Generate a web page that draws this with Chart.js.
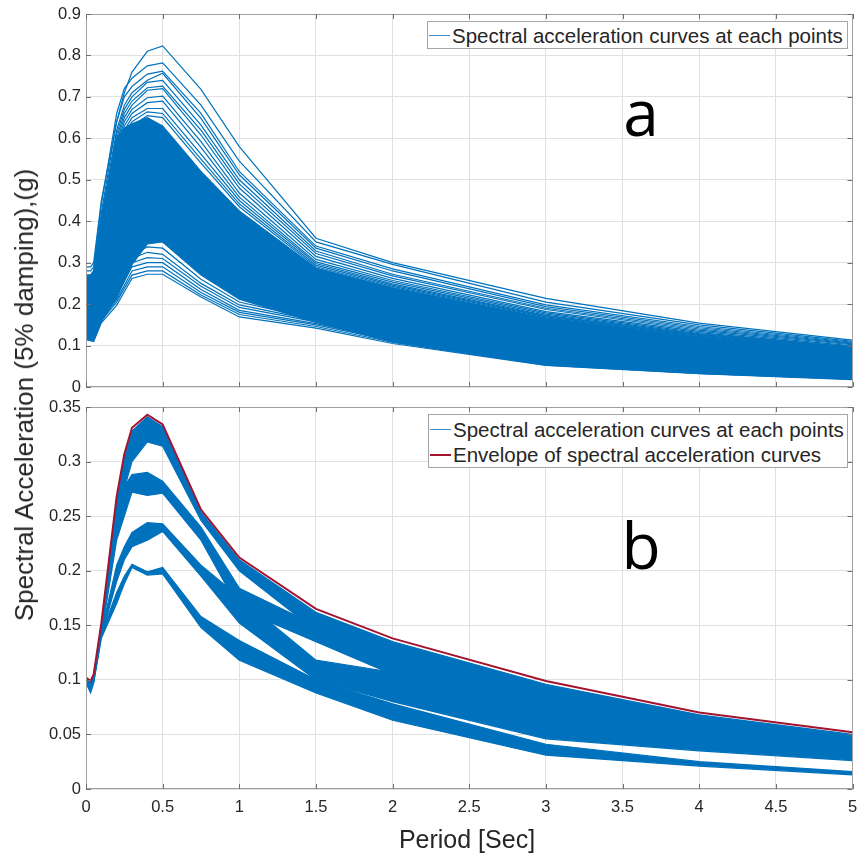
<!DOCTYPE html>
<html>
<head>
<meta charset="utf-8">
<title>Spectral acceleration curves</title>
<script src="https://cdn.jsdelivr.net/npm/chart.js"></script>
<style>
  body { margin: 0; background: #fff; }
  #wrap { position: relative; width: 858px; height: 855px; font-family: "Liberation Sans", Arial, sans-serif; color: #262626; overflow: hidden; }
  canvas { position: absolute; left: 0; }
  #chartA { top: 0; }
  #chartB { top: 400px; }
  .ylabel { position: absolute; left: 24px; top: 395px; font-size: 26px; line-height: 26px; white-space: nowrap;
            transform: translate(-50%, -50%) rotate(-90deg); }
  .xlabel { position: absolute; left: 467px; top: 827px; font-size: 25px; line-height: 25px; white-space: nowrap; transform: translateX(-50%); }
  .legend { position: absolute; box-sizing: border-box; background: #fff; border: 1px solid #a6a6a6; font-size: 20.5px; color: #262626; }
  .legend .row { height: 25.5px; display: flex; align-items: center; white-space: nowrap; }
  .legend .swatch { width: 21px; height: 0; margin-left: 1px; margin-right: 2px; border-top: 1px solid; }
  #legA { left: 427px; top: 21px; width: 421px; height: 28px; padding-top: 1px; }
  #legB { left: 428px; top: 414px; width: 420px; height: 54px; padding-top: 2px; }
  .tag { position: absolute; font-family: "Open Sans", "Noto Sans", sans-serif; font-size: 64px; line-height: 64px; color: #000; transform: translateX(-50%); }
</style>
</head>
<body>
<div id="wrap">
  <canvas id="chartA" width="858" height="400"></canvas>
  <canvas id="chartB" width="858" height="455"></canvas>
  <div class="ylabel">Spectral Acceleration (5% damping),(g)</div>
  <div class="xlabel">Period [Sec]</div>
  <div class="legend" id="legA"></div>
  <div class="legend" id="legB"></div>
  <div class="tag" style="left:641px; top:80px;">a</div>
  <div class="tag" style="left:641px; top:513px;">b</div>
</div>
<script>
// periods (sec) shared by every curve
const periods = [0, 0.03, 0.05, 0.1, 0.2, 0.25, 0.3, 0.4, 0.5, 0.75, 1, 1.5, 2, 3, 4, 5];

const xTicks = [0, 0.5, 1, 1.5, 2, 2.5, 3, 3.5, 4, 4.5, 5];
const yTicksA = [0, 0.1, 0.2, 0.3, 0.4, 0.5, 0.6, 0.7, 0.8, 0.9];
const yTicksB = [0, 0.05, 0.1, 0.15, 0.2, 0.25, 0.3, 0.35];

const legendA = ['Spectral acceleration curves at each points'];
const legendB = ['Spectral acceleration curves at each points', 'Envelope of spectral acceleration curves'];

// ---- panel a: individual curves above the dense core
const aTop1  = [0.29, 0.29, 0.30, 0.45, 0.64, 0.71, 0.76, 0.81, 0.823, 0.718, 0.58, 0.359, 0.300, 0.214, 0.154, 0.113];
const aTop2  = [0.28, 0.28, 0.29, 0.44, 0.66, 0.72, 0.745, 0.775, 0.782, 0.680, 0.545, 0.350, 0.296, 0.205, 0.150, 0.110];
const aTop3  = [0.27, 0.27, 0.28, 0.42, 0.64, 0.70, 0.725, 0.755, 0.762, 0.660, 0.520, 0.340, 0.285, 0.198, 0.146, 0.108];
const aTop4  = [0.25, 0.25, 0.27, 0.41, 0.62, 0.68, 0.71, 0.74, 0.757, 0.648, 0.512, 0.335, 0.280, 0.194, 0.143, 0.106];
const aTop5  = [0.24, 0.24, 0.26, 0.40, 0.61, 0.67, 0.70, 0.735, 0.740, 0.632, 0.500, 0.328, 0.272, 0.190, 0.140, 0.104];
const aTop6  = [0.26, 0.26, 0.27, 0.39, 0.60, 0.66, 0.69, 0.722, 0.726, 0.620, 0.490, 0.322, 0.268, 0.187, 0.137, 0.102];
const aTop7  = [0.22, 0.22, 0.25, 0.38, 0.59, 0.65, 0.68, 0.716, 0.720, 0.608, 0.480, 0.315, 0.262, 0.182, 0.134, 0.099];
const aTop8  = [0.23, 0.23, 0.24, 0.37, 0.58, 0.64, 0.67, 0.698, 0.702, 0.592, 0.468, 0.308, 0.257, 0.179, 0.131, 0.097];
const aTop9  = [0.20, 0.20, 0.22, 0.36, 0.57, 0.63, 0.66, 0.686, 0.690, 0.578, 0.458, 0.302, 0.253, 0.176, 0.129, 0.096];
const aTop10 = [0.21, 0.21, 0.23, 0.36, 0.56, 0.62, 0.65, 0.672, 0.672, 0.562, 0.450, 0.298, 0.249, 0.173, 0.127, 0.095];
const aTop11 = [0.19, 0.19, 0.21, 0.35, 0.55, 0.61, 0.64, 0.664, 0.660, 0.550, 0.442, 0.294, 0.246, 0.171, 0.125, 0.094];
const aTop12 = [0.20, 0.20, 0.22, 0.35, 0.55, 0.60, 0.63, 0.655, 0.650, 0.540, 0.435, 0.290, 0.243, 0.169, 0.124, 0.093];

// dense core of panel a (edges of the solid region)
const aCoreUpper = [0.27, 0.27, 0.28, 0.40, 0.60, 0.625, 0.635, 0.65, 0.63, 0.52, 0.425, 0.287, 0.240, 0.167, 0.122, 0.092];
const aCoreLower = [0.115, 0.112, 0.112, 0.158, 0.215, 0.255, 0.295, 0.345, 0.350, 0.270, 0.212, 0.156, 0.108, 0.053, 0.033, 0.019];

// individual curves below the core
const aBot1 = [0.115, 0.112, 0.110, 0.155, 0.197, 0.230, 0.262, 0.272, 0.272, 0.217, 0.169, 0.142, 0.105, 0.052, 0.032, 0.018];
const aBot2 = [0.120, 0.116, 0.115, 0.160, 0.205, 0.238, 0.270, 0.280, 0.280, 0.222, 0.175, 0.146, 0.108, 0.054, 0.033, 0.019];
const aBot3 = [0.125, 0.120, 0.120, 0.165, 0.210, 0.245, 0.280, 0.290, 0.290, 0.228, 0.180, 0.150, 0.112, 0.056, 0.035, 0.020];
const aBot4 = [0.130, 0.125, 0.125, 0.170, 0.220, 0.255, 0.290, 0.300, 0.300, 0.235, 0.185, 0.153, 0.115, 0.058, 0.036, 0.021];
const aBot5 = [0.140, 0.135, 0.130, 0.175, 0.230, 0.265, 0.300, 0.312, 0.310, 0.243, 0.192, 0.157, 0.118, 0.060, 0.038, 0.022];
const aBot6 = [0.150, 0.145, 0.140, 0.180, 0.240, 0.278, 0.310, 0.325, 0.320, 0.250, 0.198, 0.160, 0.120, 0.062, 0.040, 0.023];
const aBot7 = [0.160, 0.155, 0.150, 0.190, 0.250, 0.290, 0.320, 0.338, 0.335, 0.260, 0.205, 0.163, 0.122, 0.064, 0.042, 0.024];

// ---- panel b: envelope and the four clusters of curves (upper / lower edge of each)
const bEnvelope = [0.102, 0.099, 0.105, 0.152, 0.268, 0.307, 0.331, 0.343, 0.334, 0.256, 0.212, 0.165, 0.138, 0.099, 0.070, 0.052];
const b1Upper = [0.101, 0.097, 0.104, 0.150, 0.265, 0.303, 0.328, 0.341, 0.332, 0.254, 0.210, 0.162, 0.135, 0.096, 0.068, 0.050];
const b1Lower = [0.099, 0.093, 0.100, 0.143, 0.240, 0.275, 0.300, 0.318, 0.314, 0.246, 0.200, 0.145, 0.118, 0.082, 0.057, 0.042];
const b2Upper = [0.100, 0.095, 0.102, 0.146, 0.250, 0.277, 0.288, 0.290, 0.282, 0.240, 0.184, 0.150, 0.125, 0.088, 0.062, 0.045];
const b2Lower = [0.099, 0.091, 0.099, 0.141, 0.228, 0.250, 0.272, 0.269, 0.271, 0.228, 0.165, 0.135, 0.105, 0.065, 0.045, 0.034];
const b3Upper = [0.099, 0.094, 0.101, 0.144, 0.205, 0.222, 0.235, 0.244, 0.243, 0.205, 0.176, 0.118, 0.107, 0.068, 0.047, 0.035];
const b3Lower = [0.098, 0.090, 0.098, 0.140, 0.190, 0.210, 0.222, 0.228, 0.236, 0.195, 0.152, 0.100, 0.080, 0.046, 0.035, 0.026];
const b4Upper = [0.098, 0.092, 0.100, 0.142, 0.180, 0.195, 0.206, 0.199, 0.203, 0.158, 0.136, 0.100, 0.078, 0.041, 0.025, 0.016];
const b4Lower = [0.097, 0.088, 0.097, 0.138, 0.170, 0.188, 0.203, 0.196, 0.197, 0.148, 0.118, 0.088, 0.063, 0.031, 0.021, 0.013];

const blue = '#0072BD';
const red = '#A2142F';

function pts(vals) {
    return vals.map((v, i) => ({ x: periods[i], y: v }));
}

function curve(vals, extra) {
    return Object.assign({
        data: pts(vals), borderColor: blue, borderWidth: 1.2, pointRadius: 0,
        fill: false, tension: 0, order: 2
    }, extra || {});
}

// band = lower edge followed by upper edge filled down to it
function band(lower, upper) {
    return [curve(lower), curve(upper, { fill: '-1', backgroundColor: blue })];
}

// legends
function buildLegend(el, labels, colors, widths) {
    el.innerHTML = labels.map((t, i) =>
        `<div class="row"><span class="swatch" style="border-top:${widths[i]}px solid ${colors[i]}"></span>${t}</div>`
    ).join('');
}
buildLegend(document.getElementById('legA'), legendA, ['#3d8ccb'], [1]);
buildLegend(document.getElementById('legB'), legendB, ['#3d8ccb', red], [1, 2]);

// box + inward ticks, like the original axes
const boxPlugin = {
    id: 'box',
    afterDraw(chart) {
        const { ctx, chartArea: a, scales } = chart;
        ctx.save();
        ctx.strokeStyle = '#a0a0a0';
        ctx.lineWidth = 1;
        ctx.strokeRect(Math.round(a.left) + 0.5, Math.round(a.top) + 0.5,
            Math.round(a.width) - 1, Math.round(a.height) - 1);
        ctx.beginPath();
        ctx.strokeStyle = '#707070';
        scales.x.ticks.forEach(t => {
            const px = Math.round(scales.x.getPixelForValue(t.value)) + 0.5;
            ctx.moveTo(px, a.bottom); ctx.lineTo(px, a.bottom - 5);
            ctx.moveTo(px, a.top); ctx.lineTo(px, a.top + 5);
        });
        scales.y.ticks.forEach(t => {
            const py = Math.round(scales.y.getPixelForValue(t.value)) + 0.5;
            ctx.moveTo(a.left, py); ctx.lineTo(a.left + 5, py);
            ctx.moveTo(a.right, py); ctx.lineTo(a.right - 5, py);
        });
        ctx.stroke();
        ctx.restore();
    }
};

const tickFont = { family: 'Liberation Sans', size: 16.5 };

function makeOptions(yTicks, yMax, showX, padding) {
    return {
        responsive: false,
        animation: false,
        layout: { padding },
        plugins: { legend: { display: false }, tooltip: { enabled: false } },
        scales: {
            x: {
                type: 'linear', min: 0, max: 5,
                afterBuildTicks: s => { s.ticks = xTicks.map(v => ({ value: v })); },
                afterFit: s => { s.height = showX ? 66 : 0; s.paddingLeft = 0; s.paddingRight = 0; },
                grid: { color: '#e0e0e0', drawTicks: false },
                border: { display: false },
                ticks: { display: showX, font: tickFont, color: '#262626', padding: 9, maxRotation: 0, callback: v => String(v) }
            },
            y: {
                type: 'linear', min: 0, max: yMax,
                afterBuildTicks: s => { s.ticks = yTicks.map(v => ({ value: v })); },
                afterFit: s => { s.width = 86; s.paddingTop = 0; s.paddingBottom = 0; },
                grid: { color: '#e0e0e0', drawTicks: false },
                border: { display: false },
                ticks: { font: tickFont, color: '#262626', padding: 5, callback: v => String(v) }
            }
        }
    };
}

const datasetsA = [
    aTop1, aTop2, aTop3, aTop4, aTop5, aTop6, aTop7, aTop8, aTop9, aTop10, aTop11, aTop12,
    aBot1, aBot2, aBot3, aBot4, aBot5, aBot6, aBot7
].map(v => curve(v)).concat(band(aCoreLower, aCoreUpper));

new Chart(document.getElementById('chartA'), {
    type: 'line',
    data: { datasets: datasetsA },
    options: makeOptions(yTicksA, 0.9, false, { top: 14, right: 5.5, bottom: 13, left: 0 }),
    plugins: [boxPlugin]
});

const datasetsB = [curve(bEnvelope, { borderColor: red, borderWidth: 2, order: 0 })]
    .concat(band(b1Lower, b1Upper), band(b2Lower, b2Upper), band(b3Lower, b3Upper), band(b4Lower, b4Upper));

new Chart(document.getElementById('chartB'), {
    type: 'line',
    data: { datasets: datasetsB },
    options: makeOptions(yTicksB, 0.35, true, { top: 7, right: 5.5, bottom: 0, left: 0 }),
    plugins: [boxPlugin]
});
</script>
</body>
</html>
